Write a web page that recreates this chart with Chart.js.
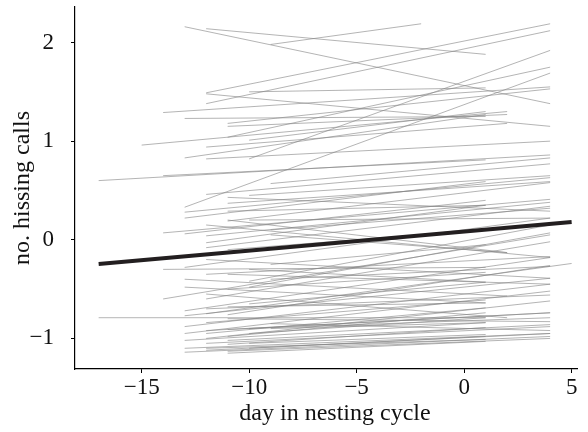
<!DOCTYPE html>
<html>
<head>
<meta charset="utf-8">
<script src="https://cdn.jsdelivr.net/npm/chart.js@4"></script>
<style>
  html, body { margin: 0; padding: 0; background: #fff; }
  #wrap { width: 588px; height: 432px; }
</style>
</head>
<body>
<div id="wrap"><canvas id="myChart" width="588" height="432"></canvas></div>
<script>
// one row per individual: first and last day seen, fitted calls at those days
const startDay = [-13, -12, -9, -12, -12, -12, -10, -14, -13, -11, -11, -13, -10, -15, -11, -10, -12, -13, -12, -17,
  -14, -9, -12, -11, -10, -13, -13, -11, -14, -13, -12, -12, -12, -13, -14, -10, -10, -13, -14, -12,
  -13, -13, -17, -13, -13, -13, -13, -13, -12, -11, -11, -11, -11, -12, -12, -11, -10, -12, -11, -10,
  -12, -10, -12, -9, -11, -13, -12, -9, -11, -11, -10, -9, -12, -11, -9, -12, -11, -9, -10, -11,
  -11, -12, -10, -11, -12, -10, -9, -11, -12, -12];
const endDay = [4, 1, -2, 4, 4, 4, 1, 4, 1, 4, 2, 4, 4, 2, 4, 1, 2, 1, 4, 4,
  1, 4, 4, 4, 4, 4, 1, 4, 4, 1, 4, 1, 4, 4, 1, 4, 4, 1, 4, 4,
  4, 4, 1, 4, 4, 1, 4, 4, 4, 4, 4, 1, 4, 1, 4, 1, 1, 1, 1, 1,
  1, 4, 4, 4, 4, 2, 2, 2, 4, 1, 4, 4, 4, 1, 1, 4, 4, 4, 1, 2,
  1, 1, 4, 4, 4, 1, 1, 1, 4, 5];
const startCalls = [2.16, 2.14, 1.98, 1.49, 1.38, 1.48, 1.50, 1.29, 1.23, 1.18, 1.15, 0.33, 0.82, 0.96, 1.04, 1.01, 0.94, 0.83, 0.82, 0.60,
  0.65, 0.57, 0.46, 0.43, 0.45, 0.28, 0.22, 0.19, 0.07, 0.06, 0.04, -0.03, -0.08, -0.28, -0.30, -0.42, -0.48, -0.48, -0.60, -0.60,
  -0.72, -0.77, -0.79, -0.88, -0.95, -1.02, -1.10, -1.14, -1.00, -0.76, -0.91, -1.06, -1.13, -0.84, -0.35, -0.50, -0.65, -0.95, -0.98, -1.05,
  -1.10, -0.90, -1.05, -0.85, -0.80, -0.40, -0.55, 0.05, 0.37, 0.29, 0.20, 0.10, 0.15, -0.10, -0.25, -0.20, -0.35, -0.40, -0.30, 0.20,
  -1.15, -1.12, -1.10, -1.02, -0.92, -0.95, -0.90, -0.68, -0.70, -0.75];
const endCalls = [1.38, 1.88, 2.19, 2.19, 2.12, 1.15, 1.54, 1.55, 1.25, 1.53, 1.27, 1.69, 1.92, 1.30, 1.75, 1.30, 1.18, 1.27, 1.00, 0.86,
  0.81, 0.83, 0.77, 0.29, 0.65, 0.63, 0.59, 0.58, 0.41, 0.40, 0.38, 0.35, 0.34, 0.22, -0.28, 0.15, 0.07, -0.64, 0.05, -0.02,
  -0.18, -0.39, -0.79, -0.45, -0.52, -0.84, -0.95, -0.98, -0.62, -0.26, -0.74, -0.89, -1.00, -0.61, -0.17, -0.33, -0.43, -0.69, -0.74, -0.96,
  -1.01, -0.79, -0.88, -0.92, -0.83, -0.57, -0.79, -0.13, 0.59, 0.35, 0.22, 0.32, -0.18, 0.10, -0.05, -0.39, -0.45, -0.27, -0.43, -0.13,
  -1.03, -0.98, -0.95, -0.86, -0.74, -0.79, -0.84, -0.64, -0.56, -0.24];

// population mean line
const meanDays = [-17, 5];
const meanCalls = [-0.245, 0.18];

const xTicks = [-15, -10, -5, 0, 5];
const yTicks = [-1, 0, 1, 2];

const serif = '"Liberation Serif", "DejaVu Serif", serif';

function minusSign(v) {
  return String(v).replace('-', '\u2212');
}

const datasets = [{
  data: meanDays.map((d, i) => ({ x: d, y: meanCalls[i] })),
  borderColor: '#231f20',
  borderWidth: 4,
  pointRadius: 0
}];

startDay.forEach((d, i) => {
  datasets.push({
    data: [{ x: d, y: startCalls[i] }, { x: endDay[i], y: endCalls[i] }],
    borderColor: 'rgba(130,130,130,0.6)',
    borderWidth: 1,
    pointRadius: 0
  });
});

const ctx = document.getElementById('myChart');
new Chart(ctx, {
  type: 'line',
  data: { datasets },
  options: {
    responsive: false,
    animation: false,
    layout: { padding: { top: 7, right: 11, left: 0, bottom: 0 } },
    plugins: { legend: { display: false }, tooltip: { enabled: false } },
    scales: {
      x: {
        type: 'linear',
        min: -18.1,
        max: 5.25,
        afterBuildTicks: (s) => { s.ticks = xTicks.map(v => ({ value: v })); },
        afterFit: (s) => { s.height = 63; s.paddingLeft = 0; s.paddingRight = 0; },
        border: { display: true, color: '#000', width: 1.2 },
        grid: { drawOnChartArea: false, drawTicks: true, tickLength: 4, tickColor: '#000' },
        ticks: { color: '#111', padding: 1, font: { family: serif, size: 23 }, callback: (v) => minusSign(v), maxRotation: 0 },
        title: { display: true, text: '   day in nesting cycle', color: '#111', font: { family: serif, size: 24 }, padding: { top: 0, bottom: 4 } }
      },
      y: {
        type: 'linear',
        min: -1.31,
        max: 2.36,
        afterBuildTicks: (s) => { s.ticks = yTicks.map(v => ({ value: v })); },
        afterFit: (s) => { s.width = 75; s.paddingTop = 0; s.paddingBottom = 0; },
        border: { display: true, color: '#000', width: 1.2 },
        grid: { drawOnChartArea: false, drawTicks: true, tickLength: 4, tickColor: '#000' },
        ticks: { color: '#111', padding: 17, font: { family: serif, size: 23 }, callback: (v) => minusSign(v) },
        title: { display: true, text: 'no. hissing calls', color: '#111', font: { family: serif, size: 24 }, padding: { top: 8, bottom: 0 } }
      }
    }
  }
});
</script>
</body>
</html>
